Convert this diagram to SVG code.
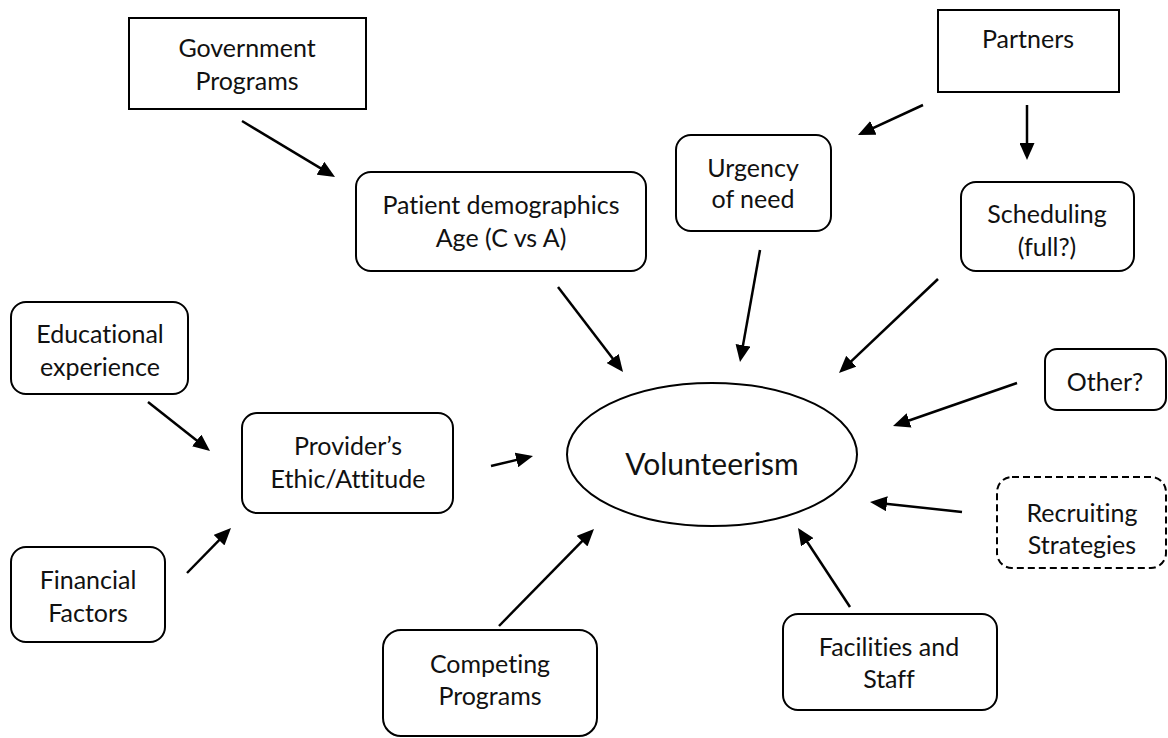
<svg xmlns="http://www.w3.org/2000/svg" width="1168" height="738" viewBox="0 0 1168 738">
  <style>
    .box { fill: #fff; stroke: #000; stroke-width: 2; }
    .dash { stroke-dasharray: 7 4; }
    .lbl { font-family: Lato, "Open Sans", "Liberation Sans", sans-serif; font-size: 25px; fill: #111; text-anchor: middle; dominant-baseline: central; font-variant-ligatures: none; font-feature-settings: "liga" 0, "dlig" 0; }
    .big { font-size: 30px; }
    .arrow { fill: none; stroke: #000; stroke-width: 2.5; marker-end: url(#head); }
  </style>
  <defs>
    <marker id="head" markerUnits="userSpaceOnUse" markerWidth="17" markerHeight="15" refX="13" refY="7.5" orient="auto">
      <path d="M0,0 L17,7.5 L0,15 z" fill="#000"/>
    </marker>
  </defs>
  <rect width="1168" height="738" fill="#fff"/>

  <!-- central concept -->
  <g id="volunteerism">
    <ellipse class="box" cx="712" cy="454.5" rx="145" ry="71.5"/>
    <text class="lbl big" x="712" y="463">Volunteerism</text>
  </g>

  <g id="government-programs">
    <rect class="box" x="129" y="18" width="237" height="91"/>
    <text class="lbl" x="247" y="47">Government</text>
    <text class="lbl" x="247" y="80">Programs</text>
  </g>

  <g id="partners">
    <rect class="box" x="938" y="10" width="181" height="82"/>
    <text class="lbl" x="1028" y="38">Partners</text>
  </g>

  <g id="patient-demographics">
    <rect class="box" x="356" y="172" width="290" height="99" rx="15"/>
    <text class="lbl" x="501" y="204">Patient demographics</text>
    <text class="lbl" x="501" y="237">Age (C vs A)</text>
  </g>

  <g id="urgency">
    <rect class="box" x="676" y="135" width="155" height="96" rx="15"/>
    <text class="lbl" x="753" y="167">Urgency</text>
    <text class="lbl" x="753" y="198">of need</text>
  </g>

  <g id="scheduling">
    <rect class="box" x="961" y="182" width="173" height="89" rx="15"/>
    <text class="lbl" x="1047" y="213">Scheduling</text>
    <text class="lbl" x="1047" y="246">(full?)</text>
  </g>

  <g id="educational">
    <rect class="box" x="11" y="302" width="177" height="92" rx="15"/>
    <text class="lbl" x="100" y="333">Educational</text>
    <text class="lbl" x="100" y="366">experience</text>
  </g>

  <g id="provider">
    <rect class="box" x="242" y="413" width="211" height="100" rx="15"/>
    <text class="lbl" x="348" y="445">Provider’s</text>
    <text class="lbl" x="348" y="478">Ethic/Attitude</text>
  </g>

  <g id="financial">
    <rect class="box" x="11" y="547" width="154" height="95" rx="15"/>
    <text class="lbl" x="88" y="579">Financial</text>
    <text class="lbl" x="88" y="612">Factors</text>
  </g>

  <g id="other">
    <rect class="box" x="1045" y="349" width="121" height="61" rx="12"/>
    <text class="lbl" x="1105" y="381">Other?</text>
  </g>

  <g id="recruiting">
    <rect class="box dash" x="997" y="477" width="169" height="91" rx="15"/>
    <text class="lbl" x="1082" y="512">Recruiting</text>
    <text class="lbl" x="1082" y="544">Strategies</text>
  </g>

  <g id="competing">
    <rect class="box" x="383" y="630" width="214" height="106" rx="18"/>
    <text class="lbl" x="490" y="663">Competing</text>
    <text class="lbl" x="490" y="695">Programs</text>
  </g>

  <g id="facilities">
    <rect class="box" x="783" y="614" width="214" height="96" rx="15"/>
    <text class="lbl" x="889" y="646">Facilities and</text>
    <text class="lbl" x="889" y="678">Staff</text>
  </g>

  <!-- influence arrows -->
  <g id="connectors">
    <line class="arrow" x1="242" y1="121" x2="331.6" y2="174.9"/>
    <line class="arrow" x1="923" y1="105" x2="861.6" y2="133.3"/>
    <line class="arrow" x1="1027" y1="105" x2="1027" y2="156"/>
    <line class="arrow" x1="558" y1="287" x2="620.6" y2="368.8"/>
    <line class="arrow" x1="760" y1="250" x2="740.7" y2="358.1"/>
    <line class="arrow" x1="938" y1="279" x2="841.9" y2="370.2"/>
    <line class="arrow" x1="1017" y1="383" x2="896.8" y2="424.7"/>
    <line class="arrow" x1="962" y1="512" x2="874" y2="502.4"/>
    <line class="arrow" x1="850" y1="607" x2="800.2" y2="531.3"/>
    <line class="arrow" x1="499" y1="626" x2="591.2" y2="531.9"/>
    <line class="arrow" x1="491" y1="466" x2="529.1" y2="456.9"/>
    <line class="arrow" x1="148" y1="402" x2="206.9" y2="448.5"/>
    <line class="arrow" x1="187" y1="573" x2="228.2" y2="530.9"/>
  </g>
</svg>
